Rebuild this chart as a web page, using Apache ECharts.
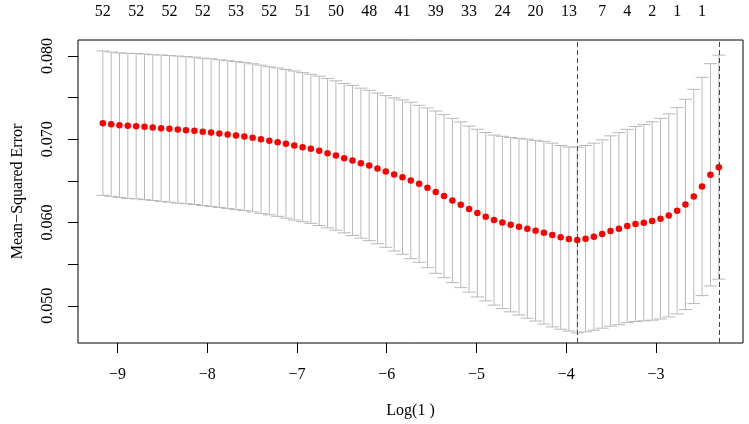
<!DOCTYPE html>
<html>
<head>
<meta charset="utf-8">
<script src="https://cdn.jsdelivr.net/npm/echarts@6/dist/echarts.min.js"></script>
<style>
html,body{margin:0;padding:0;background:#fff}
#main{width:749px;height:424px}
</style>
</head>
<body>
<div id="main"></div>
<script>
// cv curve: log(lambda), mean cv error, its standard error
var logLambda = [
	-9.163, -9.070, -8.978, -8.885, -8.792, -8.699, -8.607, -8.514, -8.421, -8.328,
	-8.236, -8.143, -8.050, -7.957, -7.865, -7.772, -7.679, -7.586, -7.494, -7.401,
	-7.308, -7.215, -7.123, -7.030, -6.937, -6.845, -6.752, -6.659, -6.566, -6.474,
	-6.381, -6.288, -6.195, -6.103, -6.010, -5.917, -5.824, -5.732, -5.639, -5.546,
	-5.453, -5.361, -5.268, -5.175, -5.082, -4.990, -4.897, -4.804, -4.711, -4.619,
	-4.526, -4.433, -4.341, -4.248, -4.155, -4.062, -3.970, -3.877, -3.784, -3.691,
	-3.599, -3.506, -3.413, -3.320, -3.228, -3.135, -3.042, -2.949, -2.857, -2.764,
	-2.671, -2.578, -2.486, -2.393, -2.300
];
var cvm = [
	0.07193, 0.07181, 0.07169, 0.07161, 0.07157, 0.07149, 0.07140, 0.07133, 0.07125, 0.07116,
	0.07109, 0.07101, 0.07089, 0.07080, 0.07068, 0.07056, 0.07044, 0.07032, 0.07017, 0.06999,
	0.06981, 0.06965, 0.06945, 0.06925, 0.06905, 0.06885, 0.06861, 0.06833, 0.06805, 0.06773,
	0.06745, 0.06713, 0.06685, 0.06649, 0.06613, 0.06577, 0.06545, 0.06505, 0.06465, 0.06417,
	0.06365, 0.06317, 0.06265, 0.06213, 0.06161, 0.06113, 0.06070, 0.06029, 0.06001, 0.05974,
	0.05950, 0.05926, 0.05902, 0.05878, 0.05850, 0.05822, 0.05802, 0.05790, 0.05806, 0.05830,
	0.05862, 0.05898, 0.05926, 0.05958, 0.05982, 0.05998, 0.06018, 0.06046, 0.06085, 0.06141,
	0.06217, 0.06313, 0.06433, 0.06573, 0.06665
];
var cvsd = [
	0.00867, 0.00867, 0.00869, 0.00871, 0.00873, 0.00875, 0.00875, 0.00879, 0.00881, 0.00883,
	0.00883, 0.00885, 0.00885, 0.00887, 0.00887, 0.00887, 0.00889, 0.00889, 0.00889, 0.00891,
	0.00889, 0.00891, 0.00893, 0.00895, 0.00895, 0.00895, 0.00897, 0.00897, 0.00897, 0.00897,
	0.00901, 0.00901, 0.00903, 0.00905, 0.00911, 0.00919, 0.00927, 0.00939, 0.00943, 0.00959,
	0.00975, 0.00979, 0.00987, 0.00995, 0.00997, 0.01007, 0.01011, 0.01021, 0.01035, 0.01047,
	0.01061, 0.01075, 0.01085, 0.01097, 0.01103, 0.01103, 0.01105, 0.01115, 0.01119, 0.01123,
	0.01131, 0.01143, 0.01153, 0.01161, 0.01171, 0.01179, 0.01191, 0.01205, 0.01219, 0.01239,
	0.01263, 0.01287, 0.01311, 0.01335, 0.01345
];

// number of nonzero coefficients shown on top (index into logLambda)
var nzeroIdx = [0, 4, 8, 12, 16, 20, 24, 28, 32, 36, 40, 44, 48, 52, 56, 60, 63, 66, 69, 72];
var nzeroLabels = ['52', '52', '52', '52', '53', '52', '51', '50', '48', '41', '39', '33', '24', '20', '13', '7', '4', '2', '1', '1'];

var xTicks = [-9, -8, -7, -6, -5, -4, -3];
var yTicks = [0.050, 0.055, 0.060, 0.065, 0.070, 0.075, 0.080];
var yLabels = [0.050, 0.060, 0.070, 0.080];

var minIdx = 57;	// lambda.min
var seIdx = 74;		// lambda.1se

var font = 'Liberation Serif';

var bars = [];
var points = [];
for (var i = 0; i < logLambda.length; i++) {
	bars.push([logLambda[i], cvm[i] - cvsd[i], cvm[i] + cvsd[i]]);
	points.push([logLambda[i], cvm[i]]);
}

var topX = [];
var topMap = {};
for (var j = 0; j < nzeroIdx.length; j++) {
	var v = logLambda[nzeroIdx[j]];
	topX.push(v);
	topMap[v.toFixed(3)] = nzeroLabels[j];
}

function renderBar(params, api) {
	var x = api.value(0);
	var lo = api.coord([x, api.value(1)]);
	var hi = api.coord([x, api.value(2)]);
	var w = 6.5;
	var st = { stroke: '#b8b8b8', lineWidth: 1 };
	return {
		type: 'group',
		children: [
			{ type: 'line', shape: { x1: lo[0], y1: lo[1], x2: hi[0], y2: hi[1] }, style: st },
			{ type: 'line', shape: { x1: hi[0] - w, y1: hi[1], x2: hi[0] + w, y2: hi[1] }, style: st },
			{ type: 'line', shape: { x1: lo[0] - w, y1: lo[1], x2: lo[0] + w, y2: lo[1] }, style: st }
		]
	};
}

function minus(s) {
	return String(s).replace('-', '\u2212');
}

var myChart = echarts.init(document.getElementById('main'));
myChart.setOption({
	animation: false,
	textStyle: { fontFamily: font },
	grid: {
		left: 78, right: 6, top: 40, bottom: 80,
		show: true, borderColor: '#000', borderWidth: 1, backgroundColor: 'transparent'
	},
	xAxis: [{
		type: 'value',
		min: -9.44, max: -2.03,
		position: 'bottom',
		splitLine: { show: false },
		axisLine: { show: false },
		axisTick: { show: true, inside: false, length: 10, customValues: xTicks, lineStyle: { color: '#000' } },
		axisLabel: {
			customValues: xTicks, margin: 24,
			color: '#000', fontFamily: font, fontSize: 16,
			formatter: function (v) { return minus(v); }
		},
		name: 'Log(1 )',
		nameLocation: 'middle',
		nameGap: 60,
		nameTextStyle: { color: '#000', fontFamily: font, fontSize: 16 }
	}, {
		type: 'value',
		min: -9.44, max: -2.03,
		position: 'top',
		splitLine: { show: false },
		axisLine: { show: false },
		axisTick: { show: false },
		axisLabel: {
			customValues: topX, margin: 20,
			color: '#000', fontFamily: font, fontSize: 16,
			formatter: function (v) { return topMap[v.toFixed(3)] || ''; }
		}
	}],
	yAxis: {
		type: 'value',
		min: 0.04553, max: 0.08192,
		splitLine: { show: false },
		axisLine: { show: false },
		axisTick: { show: true, inside: false, length: 10, customValues: yTicks, lineStyle: { color: '#000' } },
		axisLabel: {
			customValues: yLabels, rotate: 90, margin: 22,
			color: '#000', fontFamily: font, fontSize: 16,
			formatter: function (v) { return v.toFixed(3); }
		},
		name: 'Mean\u2212Squared Error',
		nameLocation: 'middle',
		nameRotate: 90,
		nameGap: 52,
		nameTextStyle: { color: '#000', fontFamily: font, fontSize: 16 }
	},
	series: [{
		type: 'custom',
		renderItem: renderBar,
		data: bars,
		encode: { x: 0, y: [1, 2] },
		z: 1
	}, {
		type: 'scatter',
		data: points,
		symbol: 'circle',
		symbolSize: 6.5,
		itemStyle: { color: '#ff0000', opacity: 1 },
		z: 3,
		markLine: {
			silent: true,
			symbol: 'none',
			label: { show: false },
			lineStyle: { type: [5, 3], color: '#444', width: 1 },
			data: [{ xAxis: logLambda[minIdx] }, { xAxis: logLambda[seIdx] }]
		}
	}]
});
</script>
</body>
</html>
